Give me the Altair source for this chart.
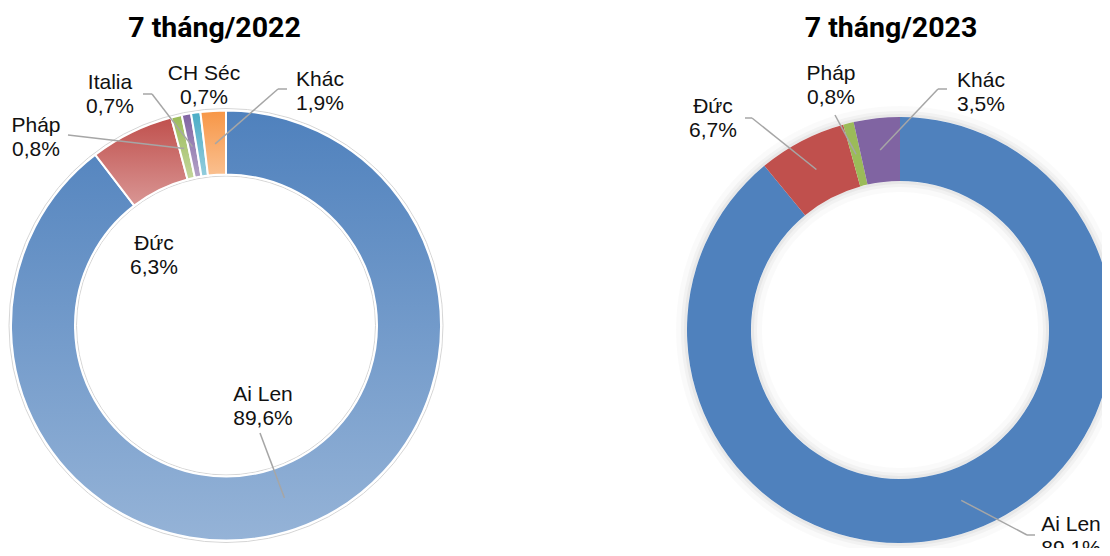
import math
import altair as alt

# ---------------- data ----------------
TITLES = ["7 tháng/2022", "7 tháng/2023"]
CATS_2022 = ["Ai Len", "Đức", "Pháp", "Italia", "CH Séc", "Khác"]
VALS_2022 = [89.6, 6.3, 0.8, 0.7, 0.7, 1.9]
CATS_2023 = ["Ai Len", "Đức", "Pháp", "Khác"]
VALS_2023 = [89.1, 6.7, 0.8, 3.5]

# ---------------- styles / layout ----------------
FONT = "Liberation Sans, Arial, sans-serif"
TITLE_FONT = "Roboto, Liberation Sans, sans-serif"
LEAD_COLOR = "#a6a6a6"

GRAD_2022 = {
    "Ai Len": ("#4f81bd", "#95b3d7"),
    "Đức": ("#c0504d", "#d99694"),
    "Pháp": ("#9bbb59", "#c3d69b"),
    "Italia": ("#8064a2", "#b3a2c7"),
    "CH Séc": ("#4bacc6", "#93cddd"),
    "Khác": ("#f79646", "#fac090"),
}
FLAT_2023 = {"Ai Len": "#4f81bd", "Đức": "#c0504d", "Pháp": "#9bbb59", "Khác": "#8064a2"}

# center x, center y, outer radius, inner radius, leader radius
GEO_2022 = (218, 317.5, 215, 151, 182)
GEO_2023 = (892, 322, 213, 149, 181)
TITLE_POS = [(206.5, 29), (883, 29)]

LAB_2022 = {"Ai Len": (255, 393), "Đức": (146, 242), "Pháp": (28, 124),
            "Italia": (102, 81), "CH Séc": (196, 72), "Khác": (312, 78)}
LEAD_2022 = {"Ai Len": ((252, 425), (252, 425)), "Pháp": ((60, 127), (60, 127)),
             "Italia": ((135, 86), (144, 86)), "Khác": ((279, 81), (270, 81))}
LAB_2023 = {"Ai Len": (1063, 523), "Đức": (705, 105), "Pháp": (823, 72), "Khác": (973, 79)}
LEAD_2023 = {"Ai Len": ((1027, 527), (1019, 527)), "Đức": ((737, 110), (744, 110)),
             "Pháp": ((827, 107), (827, 107)), "Khác": ((939, 81), (930, 81))}


def grad(c1, c2):
    return {"gradient": "linear", "x1": 0, "y1": 0, "x2": 0, "y2": 1,
            "stops": [{"offset": 0, "color": c1}, {"offset": 1, "color": c2}]}


def fmt(v):
    return f"{v:.1f}".replace(".", ",") + "%"


def records(cats, vals, fills, labs, leads):
    out = []
    for i, (c, v) in enumerate(zip(cats, vals)):
        tx, ty = labs[c]
        rec = {"name": c, "value": v, "idx": i, "fill": fills[c],
               "label": c + "\n" + fmt(v), "tx": tx, "ty": ty,
               "lx": None, "ly": None, "ex": None, "ey": None}
        if c in leads:
            (lx, ly), (ex, ey) = leads[c]
            rec.update(lx=lx, ly=ly, ex=ex, ey=ey)
        out.append(rec)
    return out


REC_2022 = records(CATS_2022, VALS_2022, {k: grad(*v) for k, v in GRAD_2022.items()}, LAB_2022, LEAD_2022)
REC_2023 = records(CATS_2023, VALS_2023, FLAT_2023, LAB_2023, LEAD_2023)

ONE = alt.Data(values=[{"a": 0}])


def ring(geo, r1, r2, **kw):
    cx, cy = geo[0], geo[1]
    return alt.Chart(ONE).mark_arc(radius=r1, radius2=r2, theta=0, theta2=2 * math.pi, **kw).encode(
        x=alt.value(cx), y=alt.value(cy))


def donut(recs, geo, stroke):
    cx, cy, R, r, rm = geo
    data = alt.Data(values=recs)
    arc_kw = dict(radius=R, radius2=r)
    if stroke:
        arc_kw.update(stroke="white", strokeWidth=2)
    arcs = alt.Chart(data).mark_arc(**arc_kw).encode(
        theta=alt.Theta("value:Q", stack=True),
        order=alt.Order("idx:Q", sort="ascending"),
        color=alt.Color("fill:N", scale=None),
        x=alt.value(cx), y=alt.value(cy),
    )
    base = alt.Chart(data).transform_joinaggregate(total="sum(value)").transform_window(
        cum="sum(value)", sort=[alt.SortField("idx")]
    ).transform_calculate(
        mid="(datum.cum - datum.value/2) / datum.total * 2 * PI",
    ).transform_calculate(
        px=f"{cx} + {rm} * sin(datum.mid)",
        py=f"{cy} - {rm} * cos(datum.mid)",
    ).transform_filter("isValid(datum.lx)")
    seg1 = base.mark_rule(color=LEAD_COLOR, strokeWidth=1.5).encode(
        x=alt.X("px:Q", scale=None, axis=None), y=alt.Y("py:Q", scale=None, axis=None),
        x2="ex:Q", y2="ey:Q")
    seg2 = base.mark_rule(color=LEAD_COLOR, strokeWidth=1.5).encode(
        x=alt.X("ex:Q", scale=None, axis=None), y=alt.Y("ey:Q", scale=None, axis=None),
        x2="lx:Q", y2="ly:Q")
    text = alt.Chart(data).mark_text(font=FONT, fontSize=21, lineBreak="\n", lineHeight=24,
                                     baseline="alphabetic", align="center", color="#111111").encode(
        x=alt.X("tx:Q", scale=None, axis=None), y=alt.Y("ty:Q", scale=None, axis=None),
        text="label:N")
    return arcs, [seg1, seg2, text]


arcs1, extra1 = donut(REC_2022, GEO_2022, True)
arcs2, extra2 = donut(REC_2023, GEO_2023, False)

# soft shadow for the 2023 ring, thin outline for the 2022 ring
shadow = [
    ring(GEO_2023, 213, 224, color="#000000", opacity=0.02),
    ring(GEO_2023, 213, 219, color="#000000", opacity=0.03),
    ring(GEO_2023, 213, 216, color="#000000", opacity=0.04),
    ring(GEO_2023, 138, 149, color="#000000", opacity=0.02),
    ring(GEO_2023, 143, 149, color="#000000", opacity=0.03),
    ring(GEO_2023, 146, 149, color="#000000", opacity=0.04),
]
outline = ring(GEO_2022, 217, 149.5, fillOpacity=0, stroke="#d6d6d6", strokeWidth=1)

title_data = alt.Data(values=[{"t": t, "x": p[0], "y": p[1]} for t, p in zip(TITLES, TITLE_POS)])
titles = alt.Chart(title_data).mark_text(font=TITLE_FONT, fontSize=28.5, fontWeight="bold",
                                         baseline="alphabetic", align="center", color="#000000").encode(
    x=alt.X("x:Q", scale=None, axis=None), y=alt.Y("y:Q", scale=None, axis=None), text="t:N")

chart = alt.layer(
    *shadow, outline, arcs1, arcs2, *extra1, *extra2, titles
).resolve_scale(theta="independent").properties(
    width=1094, height=540, autosize="none", padding=0, background="white"
).configure_view(stroke=None)

chart.save("out.html", embed_options={"renderer": "svg", "actions": False})
